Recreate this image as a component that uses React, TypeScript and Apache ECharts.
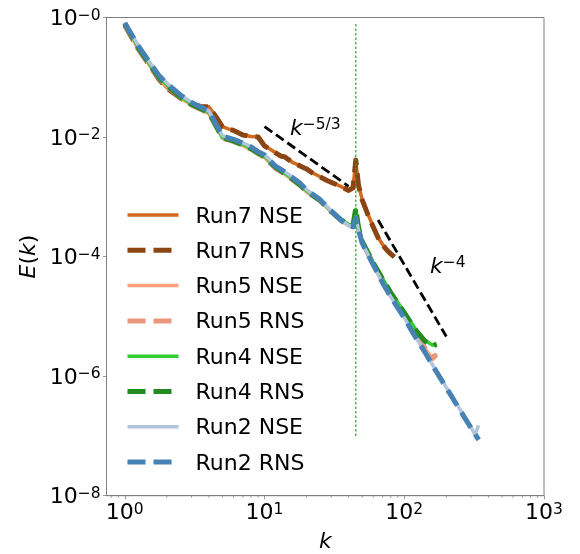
import React, { useEffect, useRef } from 'react';
import * as echarts from 'echarts';

const FONT = 'DejaVu Sans';

// wavenumbers
const kRun7 = [1, 1.25, 1.5, 1.75, 2, 2.5, 3, 3.5, 4, 4.5, 5, 5.5, 6, 7, 8, 9, 10, 11, 12, 13, 14, 16, 18, 20, 22, 25, 28, 32, 36, 40, 43, 45, 47, 50, 55, 60, 65, 70, 75, 80, 85];
const kRun45 = [1, 1.25, 1.5, 1.75, 2, 2.5, 3, 3.5, 4, 4.5, 5, 6, 7, 8, 9, 10, 12, 14, 16, 18, 20, 25, 30, 35, 40, 43, 45, 47, 50, 60, 70, 80, 100, 120, 140, 160, 170];
const kRun2 = [1, 1.25, 1.5, 1.75, 2, 2.5, 3, 3.5, 4, 4.5, 5, 6, 7, 8, 9, 10, 12, 14, 16, 18, 20, 25, 30, 35, 40, 43, 45, 47, 50, 60, 70, 80, 100, 120, 140, 170, 200, 250, 300, 320, 341];

const run7NSE = [0.76, 0.3, 0.163, 0.095, 0.067, 0.0455, 0.036, 0.0327, 0.032, 0.0219, 0.0149, 0.0137, 0.013, 0.0109, 0.0102, 0.0101, 0.00715, 0.00625, 0.00545, 0.00486, 0.00468, 0.00372, 0.00331, 0.00295, 0.00253, 0.00217, 0.00189, 0.00165, 0.00145, 0.00129, 0.00143, 0.0040, 0.0016, 0.0009, 0.000505, 0.000318, 0.000209, 0.000159, 0.00013, 0.000112, 0.0001];
const run7RNS = [0.75, 0.297, 0.161, 0.0937, 0.0662, 0.0451, 0.0358, 0.0325, 0.0319, 0.0217, 0.01476, 0.01365, 0.0129, 0.01084, 0.01016, 0.01004, 0.0071, 0.00621, 0.00542, 0.00483, 0.00465, 0.00369, 0.00329, 0.00293, 0.00251, 0.00215, 0.00188, 0.00164, 0.00144, 0.00128, 0.00141, 0.00414, 0.00158, 0.000888, 0.000498, 0.000314, 0.000206, 0.000157, 0.000129, 0.000111, 9.9e-5];
const run5NSE = [0.78, 0.295, 0.16, 0.095, 0.07, 0.0455, 0.034, 0.0287, 0.0245, 0.015, 0.0095, 0.0083, 0.0072, 0.0062, 0.0052, 0.00455, 0.00297, 0.00238, 0.00188, 0.00153, 0.0012, 0.00085, 0.000555, 0.000405, 0.000328, 0.000318, 0.00056, 0.000298, 0.000172, 7.5e-5, 3.85e-5, 2.25e-5, 1.03e-5, 5.0e-6, 2.9e-6, 1.95e-6, 2.4e-6];
const run5RNS = [0.79, 0.30, 0.163, 0.097, 0.071, 0.046, 0.0345, 0.029, 0.0248, 0.0152, 0.0096, 0.0084, 0.0073, 0.0063, 0.0053, 0.0046, 0.0030, 0.0024, 0.0019, 0.00155, 0.00122, 0.00086, 0.00056, 0.00041, 0.00033, 0.00032, 0.00058, 0.0003, 0.000175, 7.6e-5, 3.9e-5, 2.3e-5, 1.05e-5, 5.2e-6, 3.0e-6, 2.0e-6, 2.3e-6];
const run4NSE = [0.81, 0.315, 0.17, 0.102, 0.074, 0.048, 0.0356, 0.03, 0.0258, 0.0157, 0.0099, 0.0087, 0.0075, 0.0065, 0.0055, 0.0048, 0.00315, 0.00248, 0.00198, 0.0016, 0.00126, 0.00088, 0.000575, 0.000425, 0.000345, 0.000335, 0.00062, 0.000315, 0.000182, 8.0e-5, 4.3e-5, 2.55e-5, 1.18e-5, 6.2e-6, 4.0e-6, 3.3e-6, 3.6e-6];
const run4RNS = [0.80, 0.31, 0.168, 0.100, 0.073, 0.047, 0.0352, 0.0298, 0.0255, 0.0155, 0.0098, 0.0086, 0.0074, 0.0064, 0.0054, 0.0047, 0.0031, 0.00245, 0.00195, 0.00158, 0.00124, 0.00087, 0.00057, 0.00042, 0.00034, 0.00033, 0.00065, 0.00031, 0.00018, 7.9e-5, 4.2e-5, 2.5e-5, 1.15e-5, 6.0e-6, 3.9e-6, 3.2e-6, 3.4e-6];
const run2NSE = [0.82, 0.34, 0.182, 0.11, 0.08, 0.051, 0.0382, 0.0322, 0.0275, 0.0168, 0.0106, 0.0092, 0.008, 0.0069, 0.00578, 0.0051, 0.0033, 0.00263, 0.0021, 0.0017, 0.00132, 0.0009, 0.000585, 0.000415, 0.00033, 0.000318, 0.00046, 0.000282, 0.00017, 7.3e-5, 3.65e-5, 2.14e-5, 9.5e-6, 4.6e-6, 2.58e-6, 1.2e-6, 6.5e-7, 2.8e-7, 1.4e-7, 1.05e-7, 1.5e-7];
const run2RNS = [0.81, 0.334, 0.18, 0.108, 0.0788, 0.0506, 0.0379, 0.0319, 0.0273, 0.01656, 0.0104, 0.00912, 0.0079, 0.00683, 0.0057, 0.00502, 0.00325, 0.0026, 0.00207, 0.00168, 0.0013, 0.000897, 0.000581, 0.000411, 0.000326, 0.000314, 0.000444, 0.000279, 0.000169, 7.26e-5, 3.63e-5, 2.12e-5, 9.44e-6, 4.54e-6, 2.55e-6, 1.18e-6, 6.37e-7, 2.73e-7, 1.37e-7, 1.09e-7, 8.6e-8];

// reference slopes
const slope53K = [10, 40];
const slope53E = [0.015, 0.0015];
const slope4K = [65, 200];
const slope4E = [4.1e-4, 4.6e-6];

// forcing wavenumber marker
const forcingK = 45;
const forcingE = [1e-7, 0.8];

// axis ticks
const xMajorTicks = [1, 10, 100, 1000];
const xMinorTicks = [0.8, 0.9, 2, 3, 4, 5, 6, 7, 8, 9, 20, 30, 40, 50, 60, 70, 80, 90, 200, 300, 400, 500, 600, 700, 800, 900];
const yMajorTicks = [1e-8, 1e-6, 1e-4, 1e-2, 1];

const pairs = (k: number[], e: number[]) => k.map((x, i) => [x, e[i]]);

export default function App() {
  const ref = useRef<HTMLDivElement>(null);
  useEffect(() => {
    const chart = echarts.init(ref.current!, null, { renderer: 'svg' });
    const rich = {
      b: { fontSize: 22, fontFamily: FONT, color: '#000', verticalAlign: 'bottom', lineHeight: 22, padding: [3, 0, 0, 0] },
      s: { fontSize: 15.5, fontFamily: FONT, color: '#000', verticalAlign: 'top', lineHeight: 16 },
    };
    const axisColor = '#7f7f7f';
    const dash = [18, 8];
    const styles = [
      { name: 'Run7 NSE', k: kRun7, e: run7NSE, color: '#d2691e', dashed: false },
      { name: 'Run7 RNS', k: kRun7, e: run7RNS, color: '#8b4513', dashed: true },
      { name: 'Run5 NSE', k: kRun45, e: run5NSE, color: '#ffa07a', dashed: false },
      { name: 'Run5 RNS', k: kRun45, e: run5RNS, color: '#e9967a', dashed: true },
      { name: 'Run4 NSE', k: kRun45, e: run4NSE, color: '#32cd32', dashed: false },
      { name: 'Run4 RNS', k: kRun45, e: run4RNS, color: '#228b22', dashed: true },
      { name: 'Run2 NSE', k: kRun2, e: run2NSE, color: '#b0c4de', dashed: false },
      { name: 'Run2 RNS', k: kRun2, e: run2RNS, color: '#4682b4', dashed: true },
    ];
    const lineStyleOf = (color: string, dashed: boolean) => ({
      color,
      width: dashed ? 5 : 3.5,
      type: dashed ? dash : 'solid',
      cap: 'butt',
      join: 'round',
    });
    const slopeText = (text: string, x: number, y: number) => ({
      type: 'text',
      x,
      y,
      silent: true,
      style: {
        text,
        align: 'left',
        verticalAlign: 'top',
        rich: {
          i: { fontFamily: FONT, fontSize: 22, fontStyle: 'italic', fill: '#000', verticalAlign: 'bottom', lineHeight: 22, padding: [4, 0, 0, 0] },
          s: { fontFamily: FONT, fontSize: 15.5, fill: '#000', verticalAlign: 'top', lineHeight: 16 },
        },
      },
    });
    const option: any = {
      animation: false,
      grid: { left: 106.5, top: 17.5, right: 36, bottom: 58.3, show: true, borderColor: axisColor, borderWidth: 1, containLabel: false, outerBoundsMode: 'none' },
      legend: {
        data: styles.map((s) => ({
          name: s.name,
          itemStyle: { opacity: 0, color: 'rgba(0,0,0,0)', borderWidth: 0 },
          lineStyle: { color: s.color, width: s.dashed ? 5 : 3.5, type: s.dashed ? dash : 'solid', cap: 'butt', opacity: 1 },
        })),
        orient: 'vertical',
        left: 125,
        top: 204,
        padding: 0,
        itemGap: 13.3,
        itemWidth: 51,
        itemHeight: 14,
        selectedMode: false,
        itemStyle: { opacity: 0, color: 'rgba(0,0,0,0)', borderWidth: 0 },
        textStyle: { fontFamily: FONT, fontSize: 22, color: '#000', padding: [0, 0, 0, 12] },
      },
      xAxis: {
        type: 'log',
        logBase: 10,
        min: 0.74,
        max: 1000,
        axisLine: { show: true, lineStyle: { color: axisColor, width: 1 } },
        axisTick: { show: true, length: 3.5, lineStyle: { color: axisColor, width: 0.8 }, customValues: xMajorTicks },
        axisLabel: {
          customValues: xMajorTicks,
          margin: 5,
          formatter: (v: number) => `{b|10}{s|${Math.round(Math.log10(v))}}`,
          rich,
        },
        splitLine: { show: false },
        minorTick: { show: false },
        name: 'k',
        nameLocation: 'middle',
        nameGap: 34,
        nameTextStyle: { fontFamily: FONT, fontSize: 22, fontStyle: 'italic', color: '#000', verticalAlign: 'top' },
      },
      yAxis: {
        type: 'log',
        logBase: 10,
        min: 1e-8,
        max: 1,
        axisLine: { show: true, lineStyle: { color: axisColor, width: 1 } },
        axisTick: { show: true, length: 3.5, lineStyle: { color: axisColor, width: 0.8 }, customValues: yMajorTicks },
        axisLabel: {
          customValues: yMajorTicks,
          margin: 6,
          formatter: (v: number) => {
            const e = Math.round(Math.log10(v));
            return `{b|10}{s|\u2212${Math.abs(e)}}`;
          },
          rich,
        },
        splitLine: { show: false },
        minorTick: { show: false },
        name: '{i|E}{n|(}{i|k}{n|)}',
        nameLocation: 'middle',
        nameRotate: 90,
        nameGap: 62,
        nameTextStyle: {
          rich: {
            i: { fontFamily: FONT, fontSize: 22, fontStyle: 'italic', color: '#000' },
            n: { fontFamily: FONT, fontSize: 22, color: '#000' },
          },
        },
      },
      graphic: [slopeText('{i|k}{s|\u22125/3}', 290, 116), slopeText('{i|k}{s|\u22124}', 430, 254)],
      series: [
        ...styles.map((s) => ({
          type: 'line',
          name: s.name,
          data: pairs(s.k, s.e),
          symbol: 'none',
          showSymbol: false,
          silent: true,
          itemStyle: { color: s.color },
          lineStyle: lineStyleOf(s.color, s.dashed),
          z: 2,
        })),
        {
          type: 'line',
          name: 'forcing',
          data: forcingE.map((e) => [forcingK, e]),
          symbol: 'none',
          silent: true,
          lineStyle: { color: '#2ca02c', width: 1.2, type: [2.5, 2] },
          z: 3,
        },
        {
          type: 'line',
          name: 'slope53',
          data: pairs(slope53K, slope53E),
          symbol: 'none',
          silent: true,
          lineStyle: { color: '#000', width: 2.8, type: [9.5, 4.5], cap: 'butt' },
          z: 3,
        },
        {
          type: 'line',
          name: 'slope4',
          data: pairs(slope4K, slope4E),
          symbol: 'none',
          silent: true,
          lineStyle: { color: '#000', width: 2.8, type: [9.5, 4.5], cap: 'butt' },
          z: 3,
        },
        {
          type: 'custom',
          name: 'minorTicks',
          data: xMinorTicks.map((v) => [v, 1e-8]),
          encode: { x: 0, y: 1 },
          silent: true,
          clip: false,
          z: 5,
          renderItem: (_p: any, api: any) => {
            const p = api.coord([api.value(0), api.value(1)]);
            return {
              type: 'line',
              shape: { x1: p[0], y1: p[1], x2: p[0], y2: p[1] + 2.2 },
              style: { stroke: axisColor, lineWidth: 0.7 },
            };
          },
        },
      ],
    };
    chart.setOption(option);
    return () => chart.dispose();
  }, []);
  return <div ref={ref} style={{ position: 'fixed', left: 0, top: 0, width: 580, height: 554 }} />;
}
